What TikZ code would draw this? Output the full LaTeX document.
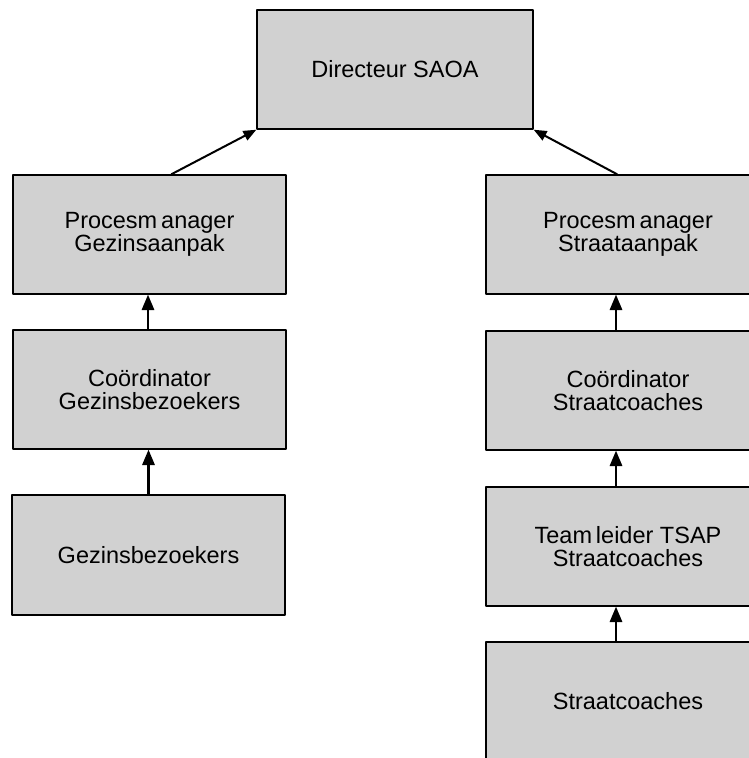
\documentclass[tikz,border=0pt]{standalone}
\usepackage{fontspec}
\setmainfont{Liberation Sans}
\usepackage{tikz}
\usetikzlibrary{arrows}
\definecolor{boxgray}{rgb}{0.82,0.82,0.82}

\tikzset{
  post/.style={draw=black,line width=1.6pt,fill=boxgray,minimum width=273pt,minimum height=119pt,
    align=center,font=\fontsize{23.5}{23.5}\selectfont,inner sep=0pt},
  postwide/.style={post,minimum width=284pt},
  link/.style={->,line width=2.6pt}
}

\begin{document}
\begin{tikzpicture}[line cap=round,line join=round,>=triangle 45,x=1pt,y=-1pt]
    \useasboundingbox (0,0) rectangle (749,758);
    \clip (0,0) rectangle (749,758);
    \node[post,minimum width=276pt] (dir) at (395,69.5) {Directeur SAOA};
    % gezinsaanpak
    \node[post] (pmg) at (149.5,234.5) {Procesm\,anager\\Gezinsaanpak};
    \node[post] (cog) at (149.5,389.5) {Coördinator\\Gezinsbezoekers};
    \node[post,minimum height=120pt] (gzb) at (148.5,555) {Gezinsbezoekers};
    % straataanpak
    \node[postwide] (pms) at (628,234.5) {Procesm\,anager\\Straataanpak};
    \node[postwide] (cos) at (628,390.5) {Coördinator\\Straatcoaches};
    \node[postwide] (tls) at (628,546.5) {Team\,leider TSAP\\Straatcoaches};
    \node[postwide] (stc) at (628,701.5) {Straatcoaches};
    \draw[link,line width=2pt] ([xshift=22pt]pmg.north) -- (dir.south west);
    \draw[link,line width=2pt] ([xshift=-11pt]pms.north) -- (dir.south east);
    \draw[link] ([xshift=-1.5pt]cog.north) -- ([xshift=-1.5pt]pmg.south);
    \draw[link] (gzb.north) -- (cog.south -| gzb.north);
    \draw[link] ([xshift=-12pt]cos.north) -- ([xshift=-12pt]pms.south);
    \draw[link] ([xshift=-12pt]tls.north) -- ([xshift=-12pt]cos.south);
    \draw[link] ([xshift=-12pt]stc.north) -- ([xshift=-12pt]tls.south);
\end{tikzpicture}
\end{document}
